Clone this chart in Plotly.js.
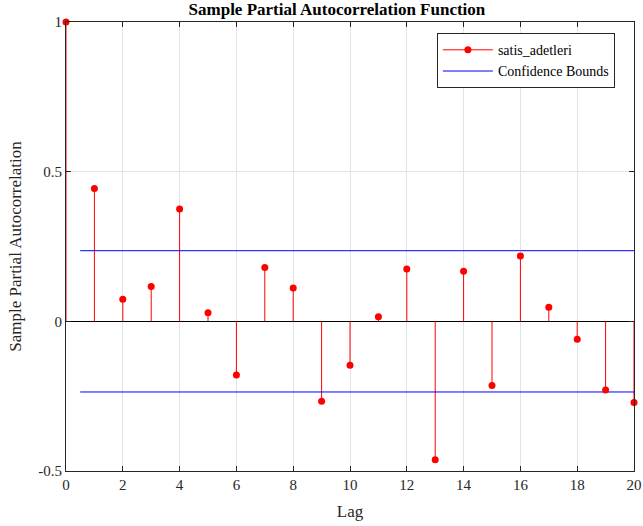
<!DOCTYPE html>
<html>
<head>
<meta charset="utf-8">
<script src="https://cdn.plot.ly/plotly-3.0.1.min.js"></script>
<style>html,body{margin:0;padding:0;background:#fff;}#chart{width:643px;height:526px;}</style>
</head>
<body>
<div id="chart"></div>
<script>
// Data
var lags = [0,1,2,3,4,5,6,7,8,9,10,11,12,13,14,15,16,17,18,19,20];
var pacf = [1.0,0.444,0.074,0.116,0.375,0.029,-0.179,0.180,0.111,-0.267,-0.147,0.015,0.175,-0.462,0.167,-0.214,0.218,0.047,-0.060,-0.229,-0.271];
var confBound = 0.236;
var boundStart = 0.5;
var boundEnd = 20;

// Build stems from data
var sx = [], sy = [];
for (var i = 0; i < lags.length; i++) {
  sx.push(lags[i], lags[i], null);
  sy.push(0, pacf[i], null);
}

var stems = {
  x: sx, y: sy, mode: 'lines', showlegend: false,
  line: {color: '#ff0000', width: 1},
  connectgaps: false, hoverinfo: 'skip', cliponaxis: false
};
var points = {
  x: lags, y: pacf, mode: 'markers', showlegend: false,
  marker: {color: '#ff0000', size: 7, line: {width: 0}},
  cliponaxis: false, hoverinfo: 'skip'
};
var legendItem = {
  x: [null], y: [null], mode: 'lines+markers', name: 'satis_adetleri',
  line: {color: '#ff0000', width: 1},
  marker: {color: '#ff0000', size: 7}
};
var bounds = {
  x: [boundStart, boundEnd, null, boundStart, boundEnd],
  y: [confBound, confBound, null, -confBound, -confBound],
  mode: 'lines', name: 'Confidence Bounds',
  line: {color: '#0000ff', width: 1}, connectgaps: false
};

var font = 'Liberation Serif, Times New Roman, serif';
var layout = {
  width: 643, height: 526,
  margin: {l: 66, r: 9, t: 22, b: 55},
  paper_bgcolor: '#fff', plot_bgcolor: '#fff',
  font: {family: font, color: '#262626', size: 15},
  title: {text: '<b>Sample Partial Autocorrelation Function</b>', x: 0.524, xanchor: 'center', yref: 'container', y: 0.982, yanchor: 'middle', font: {family: font, size: 17, color: '#000'}},
  xaxis: {
    range: [0, 20], dtick: 2, tick0: 0,
    showgrid: true, gridcolor: '#e3e3e3', gridwidth: 1,
    zeroline: false, showline: true, linecolor: '#262626', linewidth: 1, mirror: 'ticks',
    ticks: 'inside', ticklen: 5, tickcolor: '#262626',
    tickfont: {family: font, size: 15, color: '#262626'},
    title: {text: 'Lag', font: {family: font, size: 17, color: '#262626'}, standoff: 13}
  },
  yaxis: {
    range: [-0.5, 1],
    tickvals: [-0.5, 0, 0.5, 1], ticktext: ['-0.5', '0', '0.5', '1'],
    showgrid: true, gridcolor: '#e3e3e3', gridwidth: 1,
    zeroline: true, zerolinecolor: '#000', zerolinewidth: 1,
    showline: true, linecolor: '#262626', linewidth: 1, mirror: 'ticks',
    ticks: 'inside', ticklen: 5, tickcolor: '#262626',
    tickfont: {family: font, size: 15, color: '#262626'},
    title: {text: 'Sample Partial Autocorrelation', font: {family: font, size: 17, color: '#262626'}, standoff: 12}
  },
  showlegend: true,
  legend: {
    x: 0.653, y: 0.975, xanchor: 'left', yanchor: 'top',
    bgcolor: '#fff', bordercolor: '#262626', borderwidth: 1,
    font: {family: font, size: 14, color: '#000'},
    tracegroupgap: 0, itemwidth: 50, traceorder: 'normal'
  }
};

Plotly.newPlot('chart', [stems, legendItem, bounds, points], layout, {displayModeBar: false, staticPlot: true});
</script>
</body>
</html>
